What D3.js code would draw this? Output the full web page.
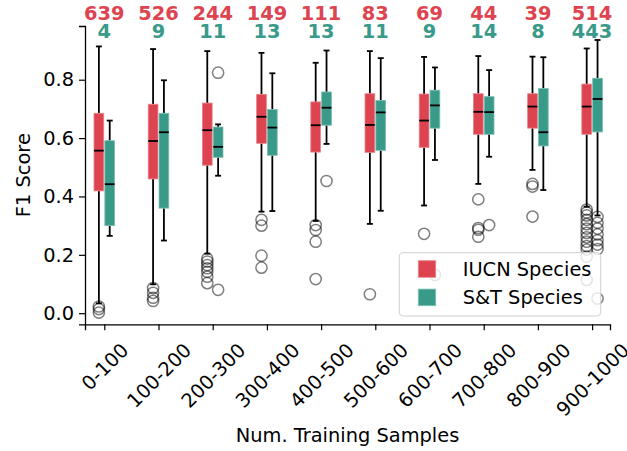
<!DOCTYPE html>
<html>
<head>
<meta charset="utf-8">
<script src="https://cdn.jsdelivr.net/npm/d3@7"></script>
<style>
  html, body { margin: 0; padding: 0; background: #fff; }
  svg { display: block; font-family: "DejaVu Sans", sans-serif; }
</style>
</head>
<body>
<div id="chart"></div>
<script>
// ---------- DATA ----------
const categories = ["0-100","100-200","200-300","300-400","400-500","500-600","600-700","700-800","800-900","900-1000"];
const iucnCounts = [639,526,244,149,111,83,69,44,39,514];
const stCounts   = [4,9,11,13,13,11,9,14,8,443];

const iucnHi  = [0.914,0.905,0.898,0.892,0.858,0.898,0.878,0.881,0.879,0.907];
const iucnQ3  = [0.685,0.716,0.720,0.750,0.724,0.752,0.751,0.752,0.752,0.785];
const iucnMed = [0.557,0.590,0.627,0.673,0.644,0.645,0.660,0.690,0.708,0.708];
const iucnQ1  = [0.419,0.460,0.507,0.582,0.552,0.551,0.568,0.613,0.634,0.613];
const iucnLo  = [0.034,0.099,0.204,0.348,0.316,0.306,0.369,0.443,0.491,0.365];
const iucnOut = [
  [0.023,0.014,0.002],
  [0.086,0.070,0.053,0.042],
  [0.187,0.177,0.165,0.154,0.142,0.125,0.103],
  [0.320,0.300,0.197,0.156],
  [0.302,0.285,0.245,0.117],
  [0.065],
  [0.272],
  [0.390,0.292,0.286,0.262],
  [0.443,0.434,0.331],
  [0.355,0.345,0.335,0.320,0.305,0.290,0.275,0.260,0.245,0.230,0.218,0.194,0.114]
];

const stHi  = [0.660,0.798,0.647,0.822,0.900,0.874,0.842,0.833,0.877,0.936];
const stQ3  = [0.591,0.685,0.638,0.698,0.758,0.729,0.764,0.742,0.770,0.805];
const stMed = [0.442,0.620,0.570,0.636,0.704,0.688,0.712,0.689,0.620,0.734];
const stQ1  = [0.300,0.360,0.534,0.541,0.644,0.558,0.634,0.613,0.573,0.621];
const stLo  = [0.265,0.249,0.471,0.350,0.580,0.351,0.525,0.536,0.422,0.335];
const stOut = [
  [],
  [],
  [0.824,0.080],
  [],
  [0.453],
  [],
  [0.131],
  [0.302],
  [],
  [0.330,0.310,0.290,0.270,0.250,0.235,0.220,0.050]
];

const yTicks = [0.0,0.2,0.4,0.6,0.8];
const seriesNames = ["IUCN Species","S&T Species"];
const colors = ["#dd4450","#3a9a8a"];
const edgeColors = ["#e8868d","#7cbfb3"];

// ---------- LAYOUT ----------
const W = 627, H = 451;
const mLeft = 85, mRight = 610, mTop = 26, mBottom = 324.3;
const FS = 19.4;

const svg = d3.select("#chart").append("svg").attr("width", W).attr("height", H);

const x = d3.scaleLinear().domain([-0.356, 9.33]).range([mLeft, mRight]);
const y = d3.scaleLinear().domain([-0.038, 0.984]).range([mBottom, mTop]);
const step = x(1) - x(0);
const offset = 0.1 * step, halfW = 0.09 * step, capHalf = 0.055 * step;

const series = [
  {hi: iucnHi, q3: iucnQ3, med: iucnMed, q1: iucnQ1, lo: iucnLo, out: iucnOut, sign: -1},
  {hi: stHi, q3: stQ3, med: stMed, q1: stQ1, lo: stLo, out: stOut, sign: 1}
];

// outliers (behind)
series.forEach((s, si) => {
  categories.forEach((c, i) => {
    const cx = x(i) + s.sign * offset;
    svg.append("g").selectAll("circle").data(s.out[i]).join("circle")
      .attr("cx", cx).attr("cy", d => y(d)).attr("r", 5.6)
      .attr("fill", "none").attr("stroke", "#000").attr("stroke-opacity", 0.5)
      .attr("stroke-width", 1.5);
  });
});

series.forEach((s, si) => {
  categories.forEach((c, i) => {
    const cx = x(i) + s.sign * offset;
    const g = svg.append("g");
    g.append("line").attr("x1", cx).attr("x2", cx).attr("y1", y(s.q3[i])).attr("y2", y(s.hi[i]))
      .attr("stroke", "#000").attr("stroke-width", 1.8);
    g.append("line").attr("x1", cx).attr("x2", cx).attr("y1", y(s.q1[i])).attr("y2", y(s.lo[i]))
      .attr("stroke", "#000").attr("stroke-width", 1.8);
    [s.hi[i], s.lo[i]].forEach(v => {
      g.append("line").attr("x1", cx - capHalf).attr("x2", cx + capHalf).attr("y1", y(v)).attr("y2", y(v))
        .attr("stroke", "#000").attr("stroke-width", 1.8);
    });
    g.append("rect").attr("x", cx - halfW).attr("width", 2 * halfW)
      .attr("y", y(s.q3[i])).attr("height", y(s.q1[i]) - y(s.q3[i]))
      .attr("fill", colors[si]).attr("stroke", edgeColors[si]).attr("stroke-width", 0.8);
    g.append("line").attr("x1", cx - halfW).attr("x2", cx + halfW).attr("y1", y(s.med[i])).attr("y2", y(s.med[i]))
      .attr("stroke", "#000").attr("stroke-width", 1.8);
  });
});

// ---------- AXES ----------
const yAxis = svg.append("g").attr("transform", `translate(${mLeft},0)`)
  .call(d3.axisLeft(y).tickValues(yTicks).tickFormat(d3.format(".1f")).tickSizeOuter(0).tickSize(6).tickPadding(5));
yAxis.select(".domain").attr("stroke", "#000").attr("stroke-width", 1.3);
yAxis.selectAll(".tick line").attr("stroke", "#000").attr("stroke-width", 1.2);
yAxis.selectAll(".tick text").attr("font-size", FS).attr("font-family", "DejaVu Sans").attr("fill", "#000");

const xAxis = svg.append("g").attr("transform", `translate(0,${mBottom})`)
  .call(d3.axisBottom(x).tickValues(d3.range(categories.length)).tickFormat(i => categories[i]).tickSizeOuter(0).tickSize(6));
xAxis.select(".domain").attr("stroke", "#000").attr("stroke-width", 1.3);
xAxis.selectAll(".tick line").attr("stroke", "#000").attr("stroke-width", 1.2);
xAxis.selectAll(".tick text").each(function() {
  const t = d3.select(this);
  t.attr("font-size", FS).attr("font-family", "DejaVu Sans").attr("fill", "#000")
   .attr("text-anchor", "middle").attr("dy", "0.36em").attr("y", 0);
  const len = this.getComputedTextLength();
  const cy = 17.4 + (len + 14) * 0.3536;
  t.attr("transform", `translate(0,${cy}) rotate(-45)`);
});

// axis labels
svg.append("text").attr("x", (mLeft + mRight) / 2).attr("y", 441.5)
  .attr("text-anchor", "middle").attr("font-size", FS).text("Num. Training Samples");
svg.append("text").attr("transform", `translate(30,${(mTop + mBottom) / 2}) rotate(-90)`)
  .attr("text-anchor", "middle").attr("font-size", FS).text("F1 Score");

// counts
svg.append("g").selectAll("text").data(iucnCounts).join("text")
  .attr("x", (d, i) => x(i)).attr("y", 20).attr("text-anchor", "middle")
  .attr("font-size", FS).attr("font-weight", "bold").attr("fill", colors[0]).text(d => d);
svg.append("g").selectAll("text").data(stCounts).join("text")
  .attr("x", (d, i) => x(i)).attr("y", 37.5).attr("text-anchor", "middle")
  .attr("font-size", FS).attr("font-weight", "bold").attr("fill", colors[1]).text(d => d);

// legend
const lg = svg.append("g");
lg.append("rect").attr("x", 399.3).attr("y", 252.7).attr("width", 201.4).attr("height", 63.3)
  .attr("rx", 4).attr("fill", "#fff").attr("fill-opacity", 0.8).attr("stroke", "#d0d0d0").attr("stroke-width", 1);
seriesNames.forEach((n, k) => {
  lg.append("rect").attr("x", 418.3).attr("y", 260.7 + k * 28.4).attr("width", 17.4).attr("height", 16.6)
    .attr("fill", colors[k]).attr("stroke", edgeColors[k]).attr("stroke-width", 0.8);
  lg.append("text").attr("x", 462.7).attr("y", 275.7 + k * 28.4).attr("font-size", FS).text(n);
});
</script>
</body>
</html>
